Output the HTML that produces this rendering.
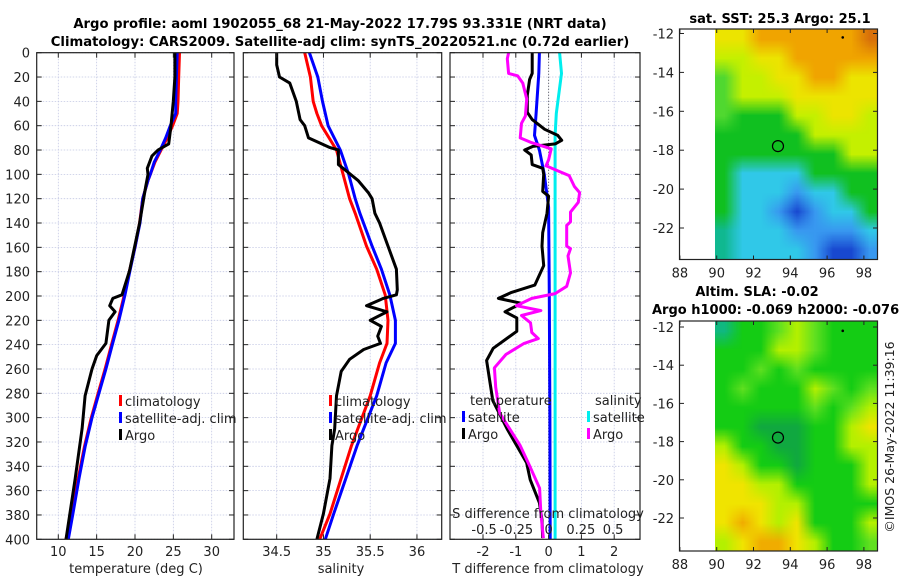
<!DOCTYPE html>
<html><head><meta charset="utf-8">
<style>
html,body{margin:0;padding:0;background:#fff;}
#wrap{position:relative;width:900px;height:580px;overflow:hidden;font-family:"DejaVu Sans","Liberation Sans",sans-serif;}
canvas{position:absolute;image-rendering:auto;}
svg{position:absolute;left:0;top:0;}
</style></head><body>
<div id="wrap">
<canvas id="sst" width="9" height="12" style="left:715px;top:29px;width:163px;height:230px"></canvas>
<canvas id="sla" width="9" height="12" style="left:715px;top:321px;width:163px;height:230px"></canvas>
<svg id="fig" width="900" height="580" viewBox="0 0 900 580"></svg>
</div>
<script>
// ---------- data ----------
const tDepths   = [0,20,40,50,60,70,80,90,100,105,120,140,160,179,199,220,241,260,282,300,324,350,379,400];
const tClim     = [25.8,25.7,25.6,25.5,24.9,24.2,23.4,22.6,22.0,21.7,21.0,20.6,20.0,19.3,18.6,17.8,16.9,16.1,15.1,14.3,13.4,12.6,11.7,11.0];
const tSat      = [25.5,25.4,25.3,25.3,24.6,24.0,23.3,22.5,22.0,21.7,21.0,20.65,20.0,19.35,18.7,17.9,17.0,16.2,15.2,14.4,13.5,12.7,11.9,11.3];
const argoTDepth= [0,20,40,60,75,80,85,95,100,110,140,179,199,202,208,213,220,239,249,260,282,309,350,400];
const argoT     = [25.2,25.2,25.0,24.7,24.4,23.0,22.2,21.6,21.7,21.4,20.6,19.3,18.3,17.1,16.7,17.4,16.6,16.2,15.0,14.4,13.5,13.1,12.2,11.0];

const sDepths   = [0,20,40,50,60,80,100,120,132,159,178,199,220,239,255,282,323,379,400];
const sClim     = [34.80,34.86,34.89,34.93,34.98,35.14,35.21,35.28,35.34,35.46,35.57,35.66,35.69,35.68,35.60,35.50,35.30,35.07,34.96];
const sSat      = [34.85,34.94,34.99,35.02,35.05,35.18,35.27,35.34,35.39,35.52,35.62,35.71,35.77,35.77,35.67,35.57,35.36,35.11,35.02];
const argoSDepth= [0,10,20,25,40,55,60,70,78,80,88,92,95,105,115,120,132,140,159,178,195,199,202,208,213,220,225,233,239,244,252,262,282,309,323,350,379,400];
const argoS     = [34.50,34.50,34.53,34.64,34.71,34.75,34.80,34.84,35.07,35.16,35.16,35.16,35.21,35.37,35.48,35.52,35.55,35.60,35.69,35.78,35.79,35.78,35.64,35.46,35.68,35.50,35.62,35.58,35.61,35.43,35.28,35.19,35.14,35.12,35.09,35.07,35.00,34.93];

const dDepths   = [0,17,50,68,80,100,127,200,300,400];
const dTSat     = [-0.28,-0.3,-0.38,-0.43,-0.28,-0.13,0,0.02,0.04,0.05];
const dSSat     = [0.085,0.1,0.06,0.05,0.05,0.05,0.05,0.05,0.05,0.05];
const dTArgoDepth=[0,17,22,35,49,55,63,68,72,75,77,80,84,92,95,100,114,118,132,148,159,175,191,197,202,206,213,218,229,235,243,253,269,286,310,337,351,370,384,399];
const dTArgo    = [-0.5,-0.5,-0.58,-0.65,-0.65,-0.5,-0.12,0.28,0.4,0.2,-0.48,-0.73,-0.53,-0.5,-0.18,-0.15,-0.18,0,-0.05,-0.18,-0.2,-0.15,-0.42,-1.13,-1.53,-0.83,-1.33,-0.97,-0.97,-1.28,-1.69,-1.89,-1.8,-1.7,-1.25,-0.67,-0.56,-0.28,-0.2,-0.18];
const dSArgoDepth=[0,5,17,19,25,38,52,58,70,74,79,88,93,97,101,110,115,123,131,139,142,159,161,167,181,192,198,202,208,212,216,222,230,235,239,248,259,275,296,323,339,358,379,399];
const dSArgo    = [-0.31,-0.32,-0.31,-0.24,-0.2,-0.17,-0.18,-0.21,-0.22,-0.13,0.02,0,-0.02,0.07,0.16,0.2,0.24,0.23,0.17,0.17,0.14,0.14,0.17,0.15,0.17,0.14,0.05,-0.13,-0.25,-0.06,-0.21,-0.14,-0.13,-0.08,-0.19,-0.33,-0.42,-0.41,-0.38,-0.22,-0.15,-0.07,-0.06,-0.04];

const depthTicks = [0,20,40,60,80,100,120,140,160,180,200,220,240,260,280,300,320,340,360,380,400];
const tTicks = [10,15,20,25,30];
const sTicks = [34.5,35,35.5,36];
const dTTicks = [-2,-1,0,1,2];
const dSTicks = [-0.5,-0.25,0,0.25,0.5];
const dSTickLabels = ["-0.5","-0.25","0","0.25","0.5"];
const latTicks = [-12,-14,-16,-18,-20,-22];
const lonTicks = [88,90,92,94,96,98];

const sstGrid = ["YYOOOOOOD","LLYYOOOOO","gLLYYOOYY","gLLLYYYYY","gGGGLLYYL","GGGGGLLLL","GGGGGGGLL","GCCCCGGGG","GCCCBCCGG","GCCBNBCCG","TCCCBBBBC","TCCCCBNNB"];
const sstPal = {O:"#f0a400",D:"#d8700a",Y:"#ece400",L:"#c4f000",g:"#50d830",G:"#10c020",T:"#10b890",C:"#30c8e8",B:"#3898f0",N:"#1848d0"};
const slaGrid = ["TGGgLgGGG","GGGLLgGGG","GGgGgGGGG","GgGGGLgGg","GGGGGgGgL","GGdddGGLY","LGGddGGLL","YLGGdGGGL","YYLLGGGGL","YYYLLGGGG","YOYLYGGGL","LYOOYLGGg"];
const slaPal = {G:"#14cc14",g:"#60e020",L:"#b4f000",Y:"#f0e400",O:"#f0ac00",T:"#10b880",d:"#10a840"};

// ---------- drawing ----------
const NS="http://www.w3.org/2000/svg";
const svg=document.getElementById('fig');
function el(tag,attrs,parent){const e=document.createElementNS(NS,tag);for(const k in attrs)e.setAttribute(k,attrs[k]);(parent||svg).appendChild(e);return e;}
function txt(s,x,y,attrs,parent){const e=el('text',Object.assign({x:x,y:y,'font-size':13,fill:'#222'},attrs||{}),parent);e.textContent=s;return e;}

const top0=52.7, bot0=539.3;
const yD=d=>top0+(bot0-top0)*d/400;
const xT=v=>58.3+(v-10)*7.67;
const xS=v=>276.7+(v-34.5)*93.5;
const xDT=v=>548.6+v*32.8;
const xDS=v=>548.6+v*129;

function panel(name,x0,x1,xticks,xf){
  const g=el('g',{},svg);
  
  
  depthTicks.forEach(d=>{el('line',{x1:x0,x2:x1,y1:yD(d),y2:yD(d),stroke:'#c4c8e4','stroke-width':0.8,'stroke-dasharray':'1.5 1.5'},g);});
  xticks.forEach(v=>{el('line',{x1:xf(v),x2:xf(v),y1:top0,y2:bot0,stroke:'#c4c8e4','stroke-width':0.8,'stroke-dasharray':'1.5 1.5'},g);});
  return g;
}
function frame(g,x0,x1,xticks,xf){
  el('rect',{x:x0,y:top0,width:x1-x0,height:bot0-top0,fill:'none',stroke:'#222','stroke-width':1.2},g);
  depthTicks.forEach(d=>{el('line',{x1:x0,x2:x0+5,y1:yD(d),y2:yD(d),stroke:'#222'},g);el('line',{x1:x1-5,x2:x1,y1:yD(d),y2:yD(d),stroke:'#222'},g);});
  xticks.forEach(v=>{el('line',{x1:xf(v),x2:xf(v),y1:top0,y2:top0+5,stroke:'#222'},g);el('line',{x1:xf(v),x2:xf(v),y1:bot0-5,y2:bot0,stroke:'#222'},g);});
}
function line(g,name,xs,ds,xf,color,w){
  const p=xs.map((v,i)=>xf(v).toFixed(1)+','+yD(ds[i]).toFixed(1)).join(' ');
  const e=el('polyline',{points:p,fill:'none',stroke:color,'stroke-width':w||3,'stroke-linejoin':'round'},g);
  
  
  return e;
}
function legendEntry(g,name,label,x,y,color){
  const lg=el('g',{},g);
  
  
  el('rect',{x:x,y:y-11,width:3,height:11,fill:color},lg);
  txt(label,x+6,y,{'font-size':13},lg);
}

// Panel 1
let g1=panel('temperature-panel',36.7,234,tTicks,xT);
line(g1,'temp-climatology-line',tClim,tDepths,xT,'#ff0000');
line(g1,'temp-satellite-line',tSat,tDepths,xT,'#0000ff');
line(g1,'temp-argo-line',argoT,argoTDepth,xT,'#000000');
frame(g1,36.7,234,tTicks,xT);
depthTicks.forEach(d=>{const t=txt(String(d),30,yD(d)+5,{'text-anchor':'end'});});
tTicks.forEach(v=>{const t=txt(String(v),xT(v),556,{'text-anchor':'middle'});});
let xt1=txt('temperature (deg C)',136,573,{'text-anchor':'middle'});

legendEntry(g1,'legend-climatology','climatology',119,406,'#ff0000');
legendEntry(g1,'legend-satellite-adj','satellite-adj. clim',119,423,'#0000ff');
legendEntry(g1,'legend-argo','Argo',119,440,'#000000');

// Panel 2
let g2=panel('salinity-panel',243.3,441.7,sTicks,xS);
line(g2,'sal-climatology-line',sClim,sDepths,xS,'#ff0000');
line(g2,'sal-satellite-line',sSat,sDepths,xS,'#0000ff');
line(g2,'sal-argo-line',argoS,argoSDepth,xS,'#000000');
frame(g2,243.3,441.7,sTicks,xS);
sTicks.forEach(v=>{const t=txt(String(v),xS(v),556,{'text-anchor':'middle'});});
let xt2=txt('salinity',341,573,{'text-anchor':'middle'});

legendEntry(g2,'legend-climatology-2','climatology',329,406,'#ff0000');
legendEntry(g2,'legend-satellite-adj-2','satellite-adj. clim',329,423,'#0000ff');
legendEntry(g2,'legend-argo-2','Argo',329,440,'#000000');

// Panel 3
let g3=panel('difference-panel',450,640,dTTicks,xDT);
el('line',{x1:xDT(0),x2:xDT(0),y1:top0,y2:bot0,stroke:'#555','stroke-width':1,'stroke-dasharray':'1 2'},g3);
line(g3,'dt-satellite-line',dTSat,dDepths,xDT,'#0000ff');
line(g3,'ds-satellite-line',dSSat,dDepths,xDS,'#00eeee');
line(g3,'dt-argo-line',dTArgo,dTArgoDepth,xDT,'#000000');
line(g3,'ds-argo-line',dSArgo,dSArgoDepth,xDS,'#ff00ff');
frame(g3,450,640,dTTicks,xDT);
dTTicks.forEach(v=>{const t=txt(String(v),xDT(v),556,{'text-anchor':'middle'});});
dSTicks.forEach((v,i)=>{const t=txt(dSTickLabels[i],xDS(v),534,{'text-anchor':'middle'});});
let xt3=txt('T difference from climatology',548,573,{'text-anchor':'middle'});

let xt4=txt('S difference from climatology',548,518,{'text-anchor':'middle'});

txt('temperature',470,405,{});
txt('salinity',595,405,{});
legendEntry(g3,'legend-t-satellite','satellite',462,422,'#0000ff');
legendEntry(g3,'legend-t-argo','Argo',462,439,'#000000');
legendEntry(g3,'legend-s-satellite','satellite',587,422,'#00eeee');
legendEntry(g3,'legend-s-argo','Argo',587,439,'#ff00ff');

// Titles
let t1=txt('Argo profile: aoml 1902055_68 21-May-2022 17.79S 93.331E (NRT data)',340,28,{'text-anchor':'middle','font-weight':'bold','font-size':13.2,fill:'#000'});

let t2=txt('Climatology: CARS2009. Satellite-adj clim: synTS_20220521.nc (0.72d earlier)',340,46,{'text-anchor':'middle','font-weight':'bold','font-size':13.2,fill:'#000'});


// Maps
function paint(id,grid,pal){const c=document.getElementById(id).getContext('2d');grid.forEach((row,r)=>{[...row].forEach((ch,i)=>{c.fillStyle=pal[ch];c.fillRect(i,r,1,1);});});}
paint('sst',sstGrid,sstPal);paint('sla',slaGrid,slaPal);
const xLon=v=>716.7+(v-90)*18.4;
function mapAxes(name,topY,botY,lat12,lat22){
  const g=el('g',{},svg);
  
  
  const yLat=v=>lat12+(v+12)*(lat22-lat12)/(-10);
  el('rect',{x:679.5,y:topY,width:198,height:botY-topY,fill:'none',stroke:'#222','stroke-width':1.2},g);
  latTicks.forEach(v=>{el('line',{x1:679.5,x2:684,y1:yLat(v),y2:yLat(v),stroke:'#222'},g);el('line',{x1:873,x2:877.5,y1:yLat(v),y2:yLat(v),stroke:'#222'},g);txt(String(v),674,yLat(v)+5,{'text-anchor':'end'},g);});
  lonTicks.forEach(v=>{el('line',{x1:xLon(v),x2:xLon(v),y1:botY-4,y2:botY,stroke:'#222'},g);el('line',{x1:xLon(v),x2:xLon(v),y1:topY,y2:topY+4,stroke:'#222'},g);txt(String(v),xLon(v),botY+18,{'text-anchor':'middle'},g);});
  el('circle',{cx:xLon(93.33),cy:yLat(-17.79),r:5.5,fill:'none',stroke:'#000','stroke-width':1.2},g);
  el('circle',{cx:xLon(96.85),cy:yLat(-12.2),r:1.3,fill:'#000'},g);
}
mapAxes('sst-map-axes',29,259.5,33.5,228);
mapAxes('sla-map-axes',321,551,327,518);
let m1=txt('sat. SST: 25.3 Argo: 25.1',780,23,{'text-anchor':'middle','font-weight':'bold',fill:'#000'});

let m2=txt('Altim. SLA: -0.02',757,296,{'text-anchor':'middle','font-weight':'bold',fill:'#000'});

let m3=txt('Argo h1000: -0.069 h2000: -0.076',652,314,{'font-weight':'bold',fill:'#000'});

let cp=txt('©IMOS 26-May-2022 11:39:16',0,0,{'text-anchor':'middle',transform:'translate(894,437) rotate(-90)','font-size':12.5});

</script>
</body></html>
